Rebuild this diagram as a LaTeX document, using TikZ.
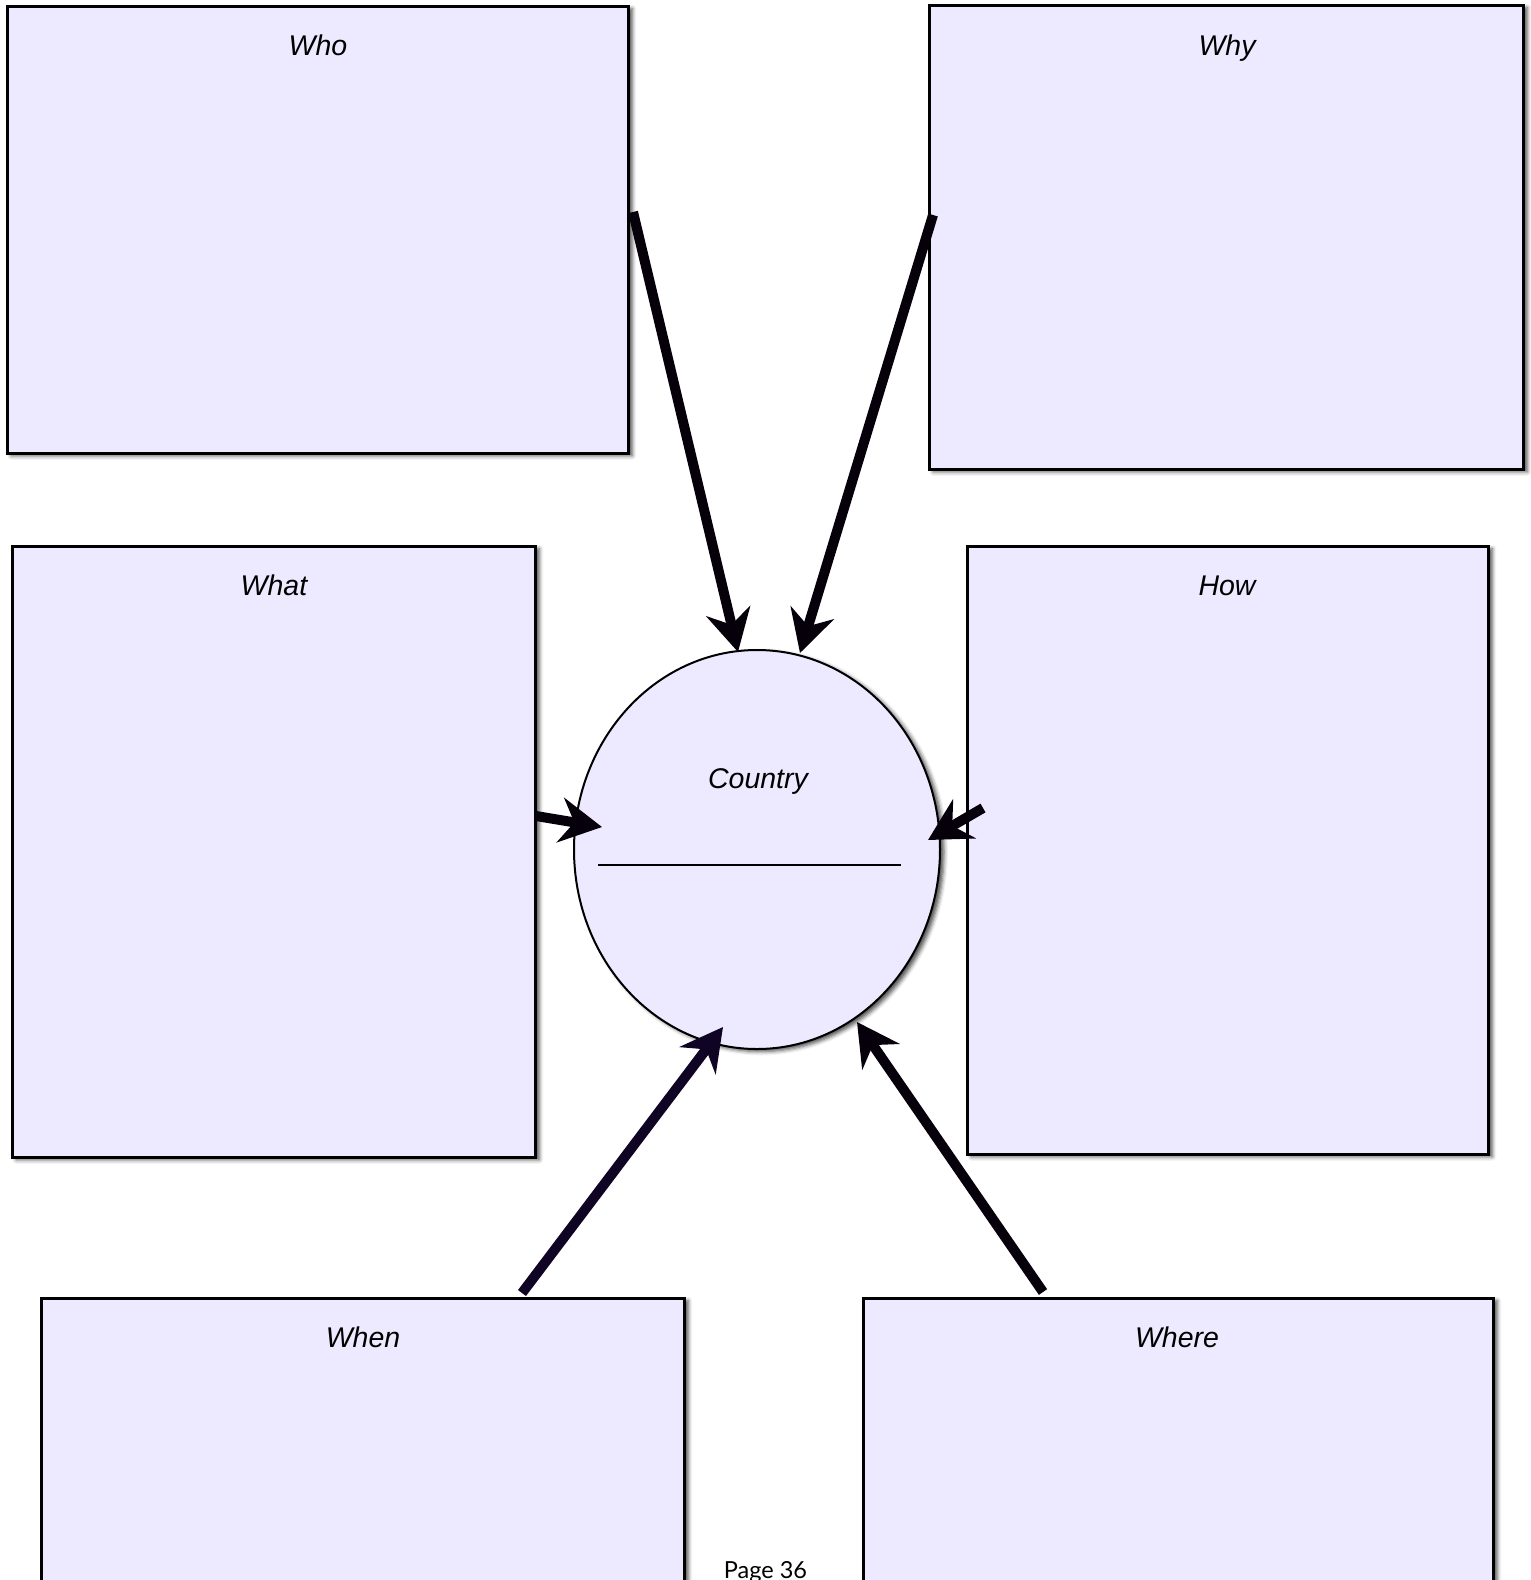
\documentclass[tikz,border=0pt]{standalone}
\usepackage{fontspec}
\setmainfont{Liberation Sans}
\newfontfamily\pagefont{Lato}
\usetikzlibrary{arrows.meta,shapes.geometric,shadows.blur}

\definecolor{boxfill}{RGB}{237,233,254}
\definecolor{inkA}{RGB}{6,0,10}
\definecolor{inkB}{RGB}{16,4,36}

\begin{document}
\begin{tikzpicture}[x=1pt,y=-1pt,
  softshadow/.style={blur shadow={shadow xshift=4pt, shadow yshift=-2.5pt, shadow blur radius=4pt, shadow opacity=70}},
  card/.style={draw=black, line width=2.5pt, fill=boxfill, inner sep=0pt,
    anchor=north west, softshadow},
  cardlabel/.style={anchor=base, inner sep=0pt, font=\fontsize{28.5}{34}\selectfont\itshape},
  pointer/.style={line width=10pt, draw=inkA, -{Stealth[length=42pt,width=45pt,inset=14pt]}},
]
\useasboundingbox (0,0) rectangle (1531,1580);
\clip (0,0) rectangle (1531,1580);

% question boxes
\node[card, minimum width=621pt, minimum height=447pt] (who)   at (6,5) {};
\node[card, minimum width=594pt, minimum height=464pt] (why)   at (928,4) {};
\node[card, minimum width=523pt, minimum height=611pt] (what)  at (11,545) {};
\node[card, minimum width=521pt, minimum height=608pt] (how)   at (966,545) {};
\node[card, minimum width=643pt, minimum height=400pt] (when)  at (40,1297) {};
\node[card, minimum width=630pt, minimum height=400pt] (where) at (862,1297) {};

% central country oval
\node[ellipse, draw=black, line width=2pt, fill=boxfill, inner sep=0pt,
  minimum width=366pt, minimum height=399pt, softshadow]
  (country) at (757,849.5) {};

% box titles
\node[cardlabel] (whoLabel)   at (318,55)    {Who};
\node[cardlabel] (whyLabel)   at (1227,55)   {Why};
\node[cardlabel] (whatLabel)  at (274,595.5) {What};
\node[cardlabel] (howLabel)   at (1227,595.5){How};
\node[cardlabel] (whenLabel)  at (363,1347.5){When};
\node[cardlabel] (whereLabel) at (1177,1347.5){Where};
\node[cardlabel] (countryLabel) at (758,788) {Country};
\node[inner sep=0pt] (blankLine) at (749.5,865) {\rule{303pt}{1.5pt}};

% arrow ends
\coordinate (whoTail)   at (633,212);
\coordinate (whoTip)    at (738,652);
\coordinate (whyTail)   at (933,215);
\coordinate (whyTip)    at (800,653);
\coordinate (whatTail)  at (536,816);
\coordinate (whatTip)   at (602,827);
\coordinate (howTail)   at (983,808);
\coordinate (howTip)    at (928,840);
\coordinate (whenTail)  at (522,1293);
\coordinate (whenTip)   at (723,1027);
\coordinate (whereTail) at (1043,1292);
\coordinate (whereTip)  at (857,1022);

% arrows pointing to the country
\draw[pointer] (whoTail) -- (whoTip);
\draw[pointer] (whyTail) -- (whyTip);
\draw[pointer] (whatTail) -- (whatTip);
\draw[pointer] (howTail) -- (howTip);
\draw[pointer, draw=inkB] (whenTail) -- (whenTip);
\draw[pointer] (whereTail) -- (whereTip);

% page number
\node[anchor=base, inner sep=0pt, font=\pagefont\fontsize{23.5}{28}\selectfont] (pageNum) at (765.5,1578) {Page 36};
\end{tikzpicture}
\end{document}
